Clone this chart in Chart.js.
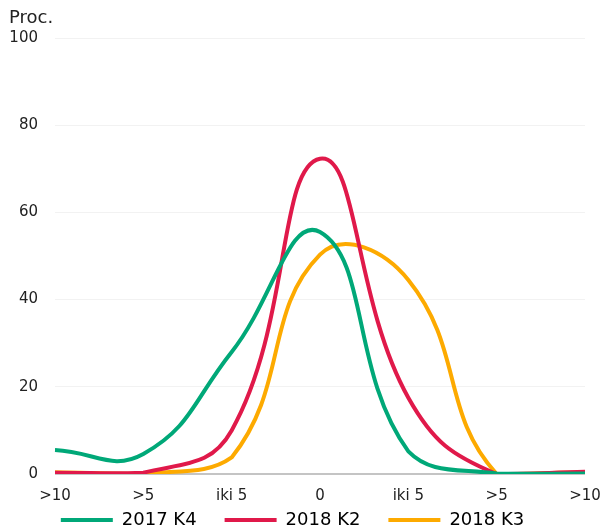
<!DOCTYPE html>
<html>
<head>
<meta charset="utf-8">
<script src="https://cdn.jsdelivr.net/npm/chart.js@4/dist/chart.umd.min.js"></script>
<style>
  html, body { margin: 0; padding: 0; background: #fff; }
  #wrap { width: 606px; height: 528px; }
</style>
</head>
<body>
<div id="wrap"><canvas id="chart"></canvas></div>
<script>
// categories on the x axis
const labels = ['>10', '>5', 'iki 5', '0', 'iki 5', '>5', '>10'];

// series values (percent)
const series2017K4 = [5.5, 4.6, 28, 55.5, 5.2, 0.1, 0.1];
const series2018K2 = [0.3, 0.3, 10, 72.3, 17.5, 0, 0.5];
const series2018K3 = [0.4, 0.1, 3.8, 50.3, 44.5, 0, 0.4];

const yTicks = [0, 20, 40, 60, 80, 100];

const FONT = 'DejaVu Sans';

// "Proc." unit label above the y axis
const unitLabel = {
  id: 'unitLabel',
  afterLayout(chart) {
    // x labels sit over the legend strip; let them draw below the short axis box
    chart.scales.x.bottom = chart.height;
  },
  afterDraw(chart) {
    const c = chart.ctx;
    c.save();
    c.font = '18px ' + FONT;
    c.fillStyle = '#222';
    c.textAlign = 'left';
    c.textBaseline = 'middle';
    c.fillText('Proc.', 9, 18);
    c.restore();
  }
};

function line(label, data, color) {
  return {
    label: label,
    data: data,
    borderColor: color,
    backgroundColor: color,
    borderWidth: 4,
    pointRadius: 0,
    tension: 0.45,
    fill: false
  };
}

new Chart(document.getElementById('chart'), {
  type: 'line',
  data: {
    labels: labels,
    datasets: [
      line('2017 K4', series2017K4, '#00a878'),
      line('2018 K2', series2018K2, '#e0194a'),
      line('2018 K3', series2018K3, '#fdaa00')
    ]
  },
  plugins: [unitLabel],
  options: {
    responsive: true,
    maintainAspectRatio: false,
    animation: false,
    layout: { padding: { top: 38, right: 21, left: 0, bottom: -11 } },
    plugins: {
      tooltip: { enabled: false },
      legend: {
        position: 'bottom',
        labels: {
          color: '#222',
          font: { family: FONT, size: 18 },
          boxWidth: 52,
          boxHeight: 4,
          padding: 28,
          generateLabels(chart) {
            return chart.data.datasets.map((ds, i) => ({
              text: ds.label,
              fillStyle: ds.borderColor,
              strokeStyle: ds.borderColor,
              lineWidth: 0,
              datasetIndex: i
            }));
          }
        }
      }
    },
    scales: {
      x: {
        offset: false,
        afterFit(scale) {
          scale.height = 9;
          scale.paddingLeft = 0;
          scale.paddingRight = 0;
        },
        grid: { display: false },
        border: { display: false },
        ticks: {
          color: '#222',
          font: { family: FONT, size: 15 },
          padding: 5,
          maxRotation: 0,
          autoSkip: false
        }
      },
      y: {
        min: 0,
        max: 100,
        afterFit(scale) { scale.width = 55; },
        afterBuildTicks(scale) { scale.ticks = yTicks.map(v => ({ value: v })); },
        grid: {
          drawTicks: false,
          color: ctx => ctx.tick && ctx.tick.value === 0 ? '#c4c4c4' : '#f2f2f2',
          lineWidth: ctx => ctx.tick && ctx.tick.value === 0 ? 2 : 1
        },
        border: { display: false },
        ticks: {
          color: '#222',
          font: { family: FONT, size: 15 },
          padding: 17
        }
      }
    }
  }
});
</script>
</body>
</html>
